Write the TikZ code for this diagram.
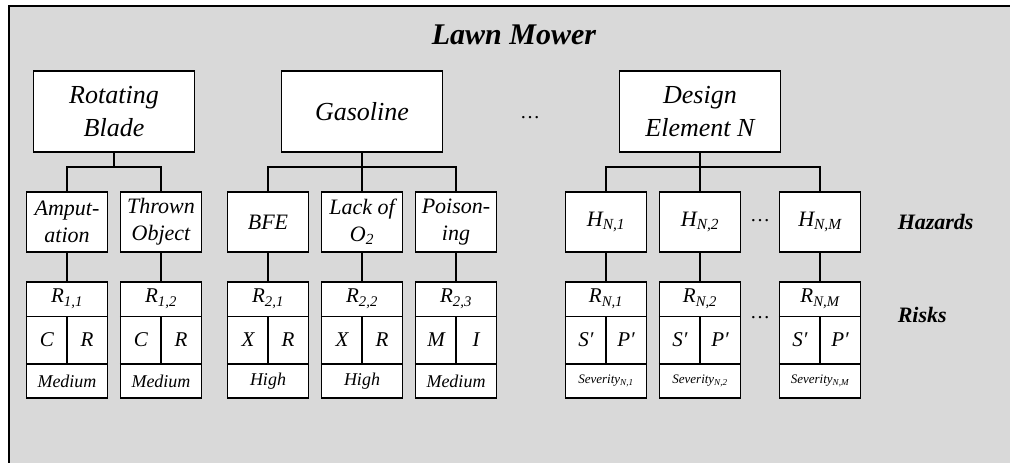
\documentclass[tikz,border=0pt]{standalone}
\usepackage{fontspec}
\setmainfont{Liberation Serif}
\usetikzlibrary{positioning}
\definecolor{panelgray}{RGB}{217,217,217}

\begin{document}
\begin{tikzpicture}[x=1pt, y=-1pt, line width=1.5pt,
    element/.style={draw, fill=white, minimum width=161pt, minimum height=81pt, inner sep=0pt, align=center, font=\fontsize{26}{33}\selectfont\itshape},
    hazard/.style={draw, fill=white, minimum width=81pt, minimum height=60pt, inner sep=0pt, align=center, font=\fontsize{22}{27}\selectfont\itshape},
    riskbox/.style={draw, fill=white, minimum width=81pt, minimum height=116pt, inner sep=0pt},
    riskcell/.style={inner sep=0pt, font=\fontsize{21}{25}\selectfont\itshape},
    risklevel/.style={inner sep=0pt, font=\fontsize{18}{22}\selectfont\itshape},
    rowlabel/.style={anchor=west, inner sep=0pt, font=\fontsize{22}{27}\selectfont\bfseries\itshape},
    gap/.style={inner sep=0pt, font=\fontsize{20}{24}\selectfont}]
    \useasboundingbox (0,0) rectangle (1010,463);
    % panel, open at the right and the bottom
    \fill[panelgray] (9,6) rectangle (1010,463);
    \draw (9,463) -- (9,6) -- (1010,6);

    \node[font=\fontsize{30}{36}\selectfont\bfseries\itshape] (title) at (514,35) {Lawn Mower};

    % design elements
    \node[element] (blade)  at (114,111.5) {Rotating\\Blade};
    \node[element] (gas)    at (362,111.5) {Gasoline};
    \node[element] (design) at (700,111.5) {Design\\Element N};
    \node[gap] (dots top) at (530,118) {\dots};

    % hazards
    \node[hazard] (amp)  at (67,222)  {Amput-\\ation};
    \node[hazard] (thr)  at (161,222) {Thrown\\Object};
    \node[hazard] (bfe)  at (268,222) {BFE};
    \node[hazard] (lack) at (362,222) {Lack of\\O\textsubscript{2}};
    \node[hazard] (poi)  at (456,222) {Poison-\\ing};
    \node[hazard] (hn1)  at (606,222) {H\textsubscript{N,1}};
    \node[hazard] (hn2)  at (700,222) {H\textsubscript{N,2}};
    \node[hazard] (hnm)  at (820,222) {H\textsubscript{N,M}};
    \node[gap] (dots haz) at (760,221) {\dots};
    \node[rowlabel] (hazards) at (897,222) {Hazards};

    % risks
    \foreach \name/\x/\title/\left/\right/\level in {
        r11/67/{R\textsubscript{1,1}}/C/R/Medium,
        r12/161/{R\textsubscript{1,2}}/C/R/Medium,
        r21/268/{R\textsubscript{2,1}}/X/R/High,
        r22/362/{R\textsubscript{2,2}}/X/R/High,
        r23/456/{R\textsubscript{2,3}}/M/I/Medium,
        rn1/606/{R\textsubscript{N,1}}/S′/P′/{\fontsize{13}{15}\selectfont Severity\textsubscript{N,1}},
        rn2/700/{R\textsubscript{N,2}}/S′/P′/{\fontsize{13}{15}\selectfont Severity\textsubscript{N,2}},
        rnm/820/{R\textsubscript{N,M}}/S′/P′/{\fontsize{13}{15}\selectfont Severity\textsubscript{N,M}}}{
        \node[riskbox] (\name) at (\x,340) {};
        \draw ([yshift=-35pt]\name.north west) -- ([yshift=-35pt]\name.north east);
        \draw ([yshift=35pt]\name.south west) -- ([yshift=35pt]\name.south east);
        \draw ([yshift=-35pt]\name.north) -- ([yshift=35pt]\name.south);
        \node[riskcell] at ([yshift=-17.5pt]\name.north) {\title};
        \node[riskcell] at ([xshift=-20pt]\name.center) {\left};
        \node[riskcell] at ([xshift=20pt]\name.center) {\right};
        \node[risklevel] at ([yshift=17.5pt]\name.south) {\level};
    }
    \node[gap] (dots risk) at (760,318) {\dots};
    \node[rowlabel] (risks) at (897,315) {Risks};

    % connectors
    \coordinate (blade bus)  at (114,167);
    \coordinate (gas bus)    at (362,167);
    \coordinate (design bus) at (700,167);
    \draw (blade.south) -- (blade bus);
    \draw (amp.north) |- (blade bus) -| (thr.north);
    \draw (gas.south) -- (lack.north);
    \draw (bfe.north) |- (gas bus) -| (poi.north);
    \draw (design.south) -- (hn2.north);
    \draw (hn1.north) |- (design bus) -| (hnm.north);
    \foreach \h/\r in {amp/r11, thr/r12, bfe/r21, lack/r22, poi/r23, hn1/rn1, hn2/rn2, hnm/rnm}
        \draw (\h.south) -- (\r.north);
\end{tikzpicture}
\end{document}
